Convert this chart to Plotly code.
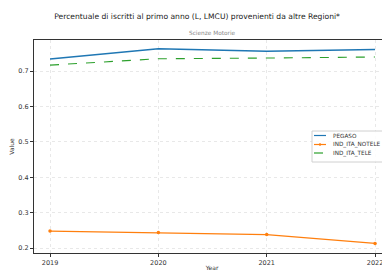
import plotly.graph_objects as go

years = [2019, 2020, 2021, 2022]
pegaso = [0.734, 0.763, 0.756, 0.761]
ind_ita_notele = [0.248, 0.244, 0.238, 0.213]
ind_ita_tele = [0.717, 0.735, 0.737, 0.740]
yticks = [0.2, 0.3, 0.4, 0.5, 0.6, 0.7]
names = ["PEGASO", "IND_ITA_NOTELE", "IND_ITA_TELE"]
colors = ["#1f77b4", "#ff7f0e", "#2ca02c"]
dashes = ["solid", "solid", "dash"]

W, H = 382, 263
L, T, B, R = 26, 32, 18, 0
PW, PH = W - L - R, H - T - B

def px(x):  # figure px -> paper x
    return (x - L) / PW

def py(y):  # figure px -> paper y
    return (H - B - y) / PH

fig = go.Figure()
fig.add_trace(go.Scatter(x=years, y=pegaso, name=names[0], mode="lines",
                         line=dict(color=colors[0], width=1.5)))
fig.add_trace(go.Scatter(x=years, y=ind_ita_notele, name=names[1], mode="lines+markers",
                         line=dict(color=colors[1], width=1.2), marker=dict(size=3.5, color=colors[1])))
fig.add_trace(go.Scatter(x=years, y=ind_ita_tele, name=names[2], mode="lines",
                         line=dict(color=colors[2], width=1.1, dash="dash")))

shapes = []
annotations = []
# custom compact legend (matplotlib style)
bx0, bx1, by0, by1 = 304, 379, 123, 154
shapes.append(dict(type="rect", xref="paper", yref="paper", x0=px(bx0), x1=px(bx1),
                   y0=py(by1), y1=py(by0), line=dict(color="#d0d0d0", width=1),
                   fillcolor="rgba(255,255,255,0.85)", layer="above"))
rows = [127.5, 136.5, 145]
for i, name in enumerate(names):
    yy = py(rows[i])
    shapes.append(dict(type="line", xref="paper", yref="paper", x0=px(306), x1=px(318),
                       y0=yy, y1=yy, layer="above",
                       line=dict(color=colors[i], width=1.2, dash=("dash" if dashes[i] == "dash" else "solid"))))
    annotations.append(dict(text=name, xref="paper", yref="paper", x=px(323), y=yy,
                            xanchor="left", yanchor="middle", showarrow=False,
                            font=dict(size=5.7, color="#333")))
shapes.append(dict(type="circle", xref="paper", yref="paper", x0=px(310.8), x1=px(313.2),
                   y0=py(rows[1] + 1.2), y1=py(rows[1] - 1.2), fillcolor=colors[1],
                   line=dict(color=colors[1], width=0), layer="above"))

annotations.append(dict(text="Scienze Motorie", xref="paper", yref="paper", x=0.5, y=1.0,
                        yanchor="middle", showarrow=False, yshift=7,
                        font=dict(size=5.8, color="#888")))

fig.update_layout(
    width=W, height=H,
    margin=dict(l=L, r=R, t=T, b=B, autoexpand=False),
    paper_bgcolor="white", plot_bgcolor="white",
    font=dict(family="DejaVu Sans", size=6.5, color="#333"),
    title=dict(text="Percentuale di iscritti al primo anno (L, LMCU) provenienti da altre Regioni*",
               x=0.495, xanchor="center", y=1 - 8 / H, yanchor="middle",
               font=dict(size=7.6, color="#222")),
    showlegend=False,
    shapes=shapes,
    annotations=annotations,
)
fig.update_xaxes(range=[2018.852, 2022.138], tickvals=years, ticktext=[str(y) for y in years],
                 showgrid=True, gridcolor="#e8e8e8", griddash="dot", gridwidth=1,
                 showline=True, linecolor="#333", linewidth=1, mirror=True,
                 ticks="outside", ticklen=3, tickcolor="#333", zeroline=False,
                 title=dict(text="Year", font=dict(size=6), standoff=0))
fig.update_yaxes(range=[0.186, 0.788], tickvals=yticks, ticktext=[f"{v:.1f}" for v in yticks],
                 showgrid=True, gridcolor="#e8e8e8", griddash="dot", gridwidth=1,
                 showline=True, linecolor="#333", linewidth=1, mirror=True,
                 ticks="outside", ticklen=3, tickcolor="#333", zeroline=False,
                 title=dict(text="Value", font=dict(size=6), standoff=6))

fig.write_html("out.html")
